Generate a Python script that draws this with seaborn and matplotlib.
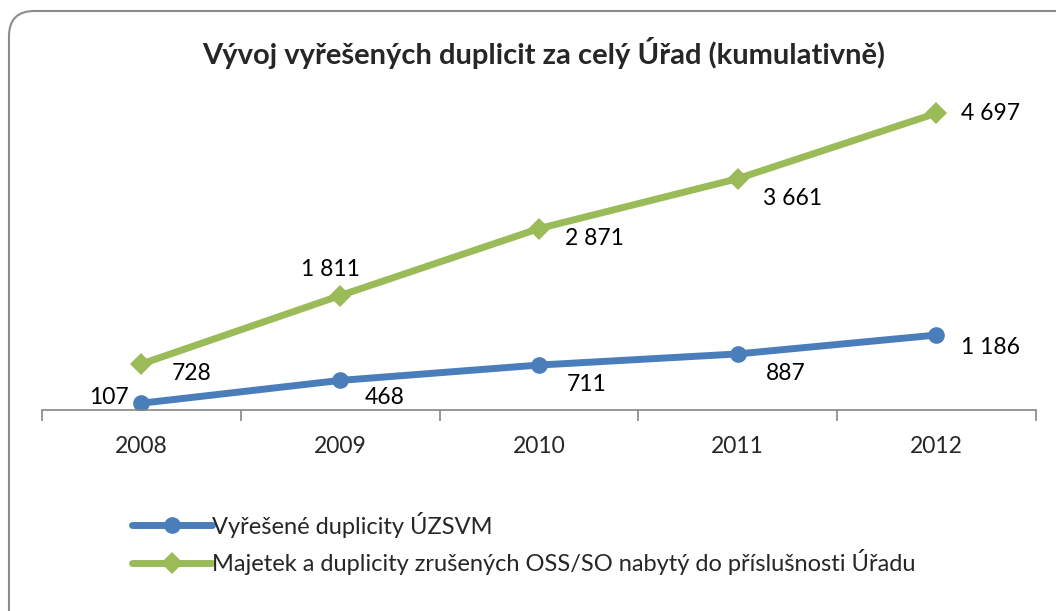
import numpy as np
import pandas as pd
import matplotlib
matplotlib.use('Agg')
import matplotlib.pyplot as plt
from matplotlib.patches import FancyBboxPatch
import seaborn as sns

# data
years = [2008, 2009, 2010, 2011, 2012]
uzsvm = [107, 468, 711, 887, 1186]
oss = [728, 1811, 2871, 3661, 4697]
name_uzsvm = 'Vyřešené duplicity ÚZSVM'
name_oss = 'Majetek a duplicity zrušených OSS/SO nabytý do příslušnosti Úřadu'
title = 'Vývoj vyřešených duplicit za celý Úřad (kumulativně)'

df = pd.DataFrame({
    'year': years * 2,
    'value': uzsvm + oss,
    'series': [name_uzsvm] * len(years) + [name_oss] * len(years),
})

sns.set_style('white')
plt.rcParams['font.family'] = ['Lato', 'DejaVu Sans']

blue = '#4A7EBB'
green = '#9BBB59'

fig = plt.figure(figsize=(10.56, 6.11), dpi=100)
ax = fig.add_axes([0.0398, 0.329, 0.941, 0.517])

sns.lineplot(data=df, x='year', y='value', hue='series', style='series',
             palette=[blue, green], markers=['o', 'D'], dashes=False,
             linewidth=5, markersize=12, markeredgewidth=0, ax=ax, legend=True)
# diamonds a bit smaller
for ln in ax.lines:
    if ln.get_marker() == 'D':
        ln.set_markersize(11)

ax.set_xlim(2007.5, 2012.5)
ax.set_ylim(0, 5000)
ax.set_yticks([])
ax.set_xlabel('')
ax.set_ylabel('')
for s in ['top', 'right', 'left']:
    ax.spines[s].set_visible(False)
ax.spines['bottom'].set_color('#868686')
ax.spines['bottom'].set_linewidth(1.2)
ax.set_xticks(years)
ax.set_xticklabels([str(y) for y in years], fontsize=16.5)
ax.set_xticks(np.arange(2007.5, 2013, 1.0), minor=True)
ax.tick_params(axis='x', which='major', bottom=True, length=0, pad=19)
ax.tick_params(axis='x', which='minor', bottom=True, length=8, width=1.2,
               color='#868686', direction='out')

def fmt(v):
    return f'{v:,}'.replace(',', ' ')

# label offsets in points (dx, dy, ha)
off_blue = [(-9, 4, 'right'), (18, -12, 'left'), (20, -14, 'left'), (20, -14, 'left'), (18, -9, 'left')]
off_green = [(22, -7, 'left'), (-7, 19, 'center'), (19, -7, 'left'), (18, -14, 'left'), (18, 0, 'left')]
for y, v, o in zip(years, uzsvm, off_blue):
    ax.annotate(fmt(v), (y, v), xytext=(o[0], o[1]), textcoords='offset points',
                ha=o[2], va='center', fontsize=16.5, color='black')
for y, v, o in zip(years, oss, off_green):
    ax.annotate(fmt(v), (y, v), xytext=(o[0], o[1]), textcoords='offset points',
                ha=o[2], va='center', fontsize=16.5, color='black')

handles, labels = ax.get_legend_handles_labels()
ax.get_legend().remove()
for h in handles:
    h.set_linewidth(5)
fig.legend(handles, labels, loc='upper left', bbox_to_anchor=(0.114, 0.182),
           frameon=False, fontsize=17, handlelength=3.4, handletextpad=0.0,
           labelspacing=0.5, borderpad=0)

fig.text(0.515, 0.913, title, ha='center', va='center', fontsize=21, fontweight='bold')

border = FancyBboxPatch((0.0085, -0.1), 1.1, 1.082,
                        boxstyle='round,pad=0,rounding_size=0.024',
                        transform=fig.transFigure, facecolor='none',
                        edgecolor='#8c8c8c', linewidth=1.5, mutation_aspect=1.73)
fig.patches.append(border)

fig.savefig('out.png', dpi=100)
